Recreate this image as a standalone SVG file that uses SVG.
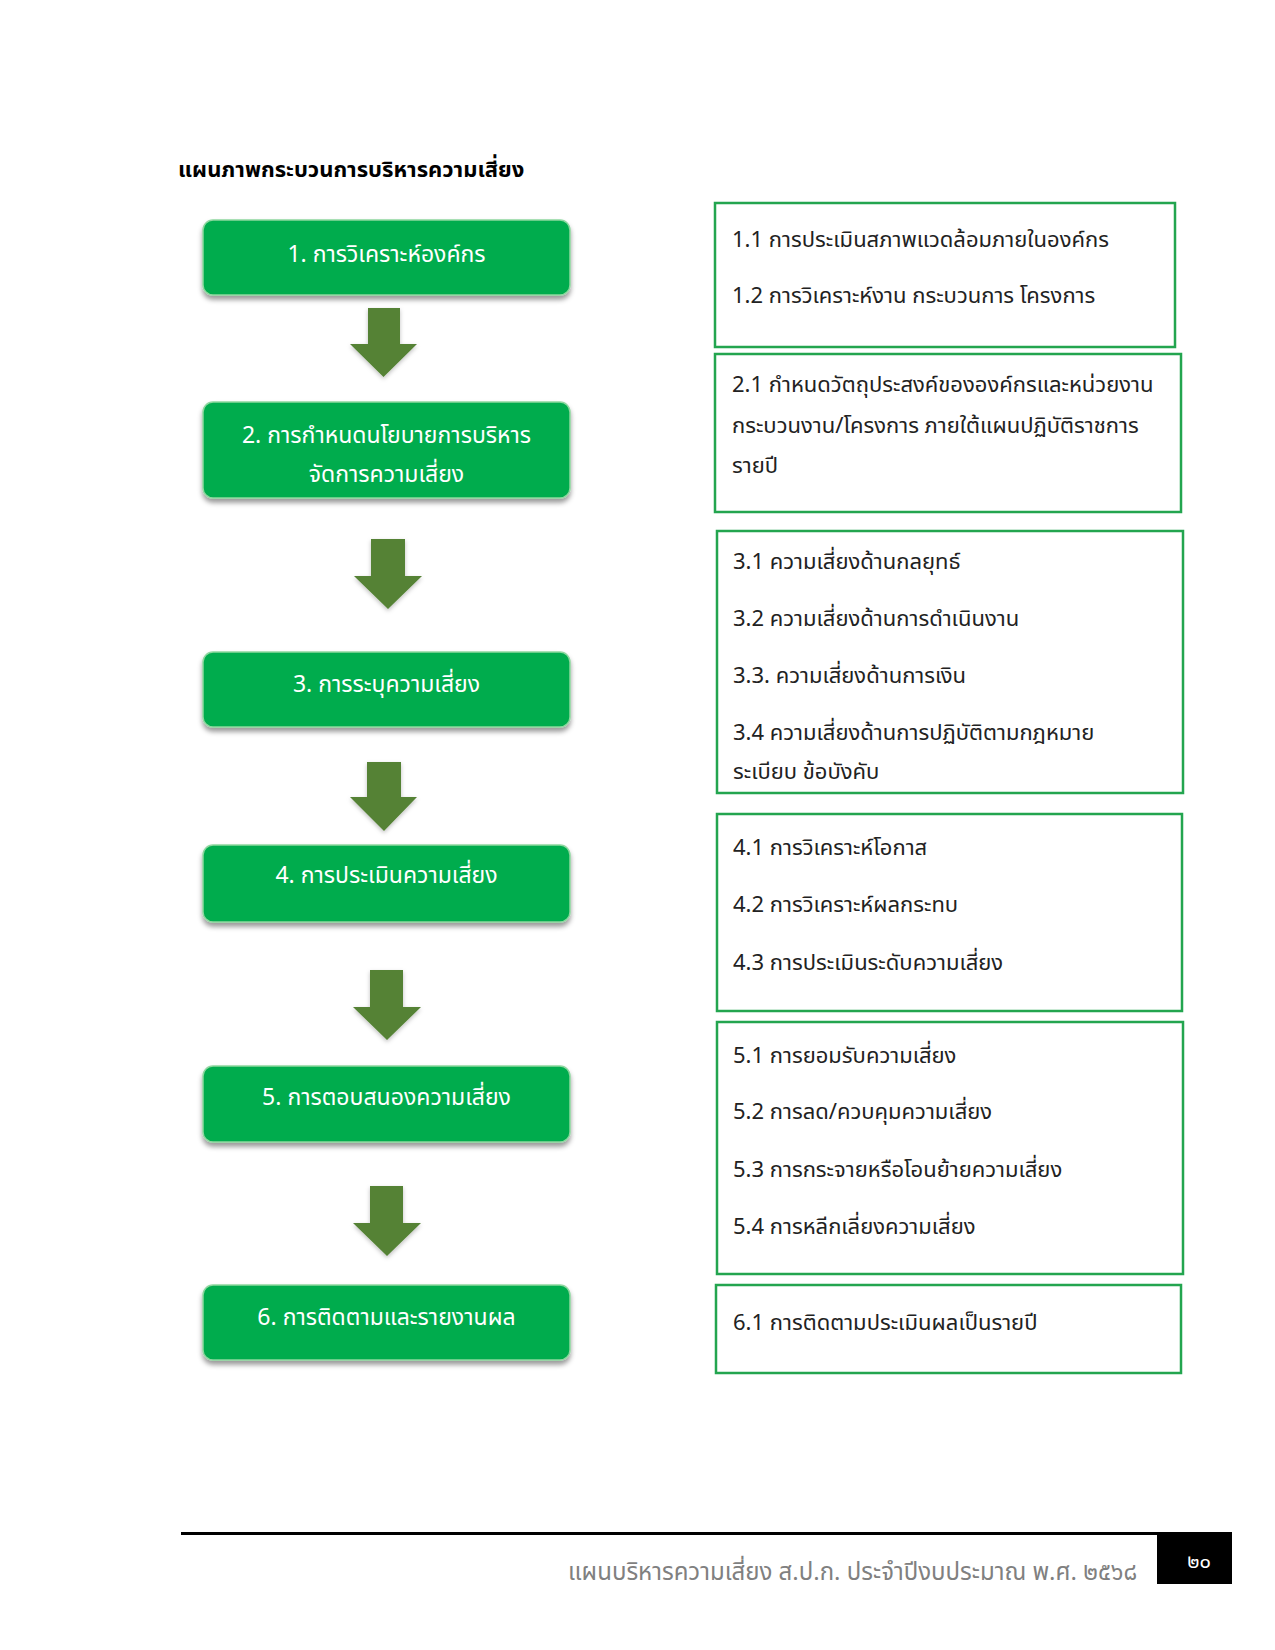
<svg xmlns="http://www.w3.org/2000/svg" width="1275" height="1650" viewBox="0 0 1275 1650">
<defs>
<filter id="sh" x="-10%" y="-20%" width="120%" height="150%">
<feDropShadow dx="0" dy="4" stdDeviation="2.5" flood-color="#000" flood-opacity="0.4"/>
</filter>
<filter id="ash" x="-20%" y="-20%" width="140%" height="140%">
<feDropShadow dx="0" dy="2" stdDeviation="2" flood-color="#000" flood-opacity="0.25"/>
</filter>
</defs>
<style>
text{font-family:"Noto Sans Thai","Leelawadee UI",Tahoma,"Noto Sans","DejaVu Sans",sans-serif}
.step rect{fill:#00AC4E;stroke:#8ED79F;stroke-width:1.5;filter:url(#sh)}
.step text{fill:#fff;font-size:23px;text-anchor:middle}
.arr{fill:#548235;filter:url(#ash)}
.det rect{fill:#fff;stroke:#23A54F;stroke-width:2.5}
.det text{fill:#222;font-size:22px}
</style>
<rect width="1275" height="1650" fill="#fff"/>
<text x="178" y="177" font-size="22" font-weight="bold" fill="#000">แผนภาพกระบวนการบริหารความเสี่ยง</text>

<g id="connectors">
<polygon class="arr" points="368,308 400,308 400,344 417,344 383.5,377 350,344 368,344"/>
<polygon class="arr" points="371,539 405,539 405,576 422,576 388,609 354,576 371,576"/>
<polygon class="arr" points="367,762 401,762 401,797 417,797 384,831 350,797 367,797"/>
<polygon class="arr" points="370,970 403,970 403,1007 421,1007 387,1040 353,1007 370,1007"/>
<polygon class="arr" points="370,1186 403,1186 403,1223 421,1223 387,1256 353,1223 370,1223"/>
</g>

<g id="step1" class="step"><rect x="203" y="220" width="367" height="75" rx="10"/><text x="386.5" y="262">1. การวิเคราะห์องค์กร</text></g>
<g id="step2" class="step"><rect x="203" y="402" width="367" height="96" rx="10"/><text x="386.5" y="443">2. การกำหนดนโยบายการบริหาร</text><text x="386.5" y="482">จัดการความเสี่ยง</text></g>
<g id="step3" class="step"><rect x="203" y="652" width="367" height="75" rx="10"/><text x="386.5" y="692">3. การระบุความเสี่ยง</text></g>
<g id="step4" class="step"><rect x="203" y="845" width="367" height="77" rx="10"/><text x="386.5" y="883">4. การประเมินความเสี่ยง</text></g>
<g id="step5" class="step"><rect x="203" y="1066" width="367" height="76" rx="10"/><text x="386.5" y="1105">5. การตอบสนองความเสี่ยง</text></g>
<g id="step6" class="step"><rect x="203" y="1285" width="367" height="75" rx="10"/><text x="386.5" y="1325">6. การติดตามและรายงานผล</text></g>

<g id="detail1" class="det"><rect x="715" y="203" width="460" height="144"/>
<text x="732" y="247">1.1 การประเมินสภาพแวดล้อมภายในองค์กร</text>
<text x="732" y="303">1.2 การวิเคราะห์งาน กระบวนการ โครงการ</text></g>
<g id="detail2" class="det"><rect x="715" y="354" width="466" height="158"/>
<text x="732" y="392">2.1 กำหนดวัตถุประสงค์ขององค์กรและหน่วยงาน</text>
<text x="732" y="433">กระบวนงาน/โครงการ ภายใต้แผนปฏิบัติราชการ</text>
<text x="732" y="473">รายปี</text></g>
<g id="detail3" class="det"><rect x="717" y="531" width="466" height="262"/>
<text x="733" y="569">3.1 ความเสี่ยงด้านกลยุทธ์</text>
<text x="733" y="626">3.2 ความเสี่ยงด้านการดำเนินงาน</text>
<text x="733" y="683">3.3. ความเสี่ยงด้านการเงิน</text>
<text x="733" y="740">3.4 ความเสี่ยงด้านการปฏิบัติตามกฎหมาย</text>
<text x="733" y="779">ระเบียบ ข้อบังคับ</text></g>
<g id="detail4" class="det"><rect x="717" y="814" width="465" height="197"/>
<text x="733" y="855">4.1 การวิเคราะห์โอกาส</text>
<text x="733" y="912">4.2 การวิเคราะห์ผลกระทบ</text>
<text x="733" y="970">4.3 การประเมินระดับความเสี่ยง</text></g>
<g id="detail5" class="det"><rect x="717" y="1022" width="466" height="252"/>
<text x="733" y="1063">5.1 การยอมรับความเสี่ยง</text>
<text x="733" y="1119">5.2 การลด/ควบคุมความเสี่ยง</text>
<text x="733" y="1177">5.3 การกระจายหรือโอนย้ายความเสี่ยง</text>
<text x="733" y="1234">5.4 การหลีกเลี่ยงความเสี่ยง</text></g>
<g id="detail6" class="det"><rect x="716" y="1285" width="465" height="88"/>
<text x="733" y="1330">6.1 การติดตามประเมินผลเป็นรายปี</text></g>

<g id="footer">
<line x1="181" y1="1533.5" x2="1157" y2="1533.5" stroke="#000" stroke-width="3"/>
<rect x="1157" y="1532" width="75" height="52" fill="#000"/>
<text x="1199" y="1568" font-size="20" fill="#fff" text-anchor="middle">๒๐</text>
<text x="1137" y="1580" font-size="24" fill="#808080" text-anchor="end">แผนบริหารความเสี่ยง ส.ป.ก. ประจำปีงบประมาณ พ.ศ. ๒๕๖๘</text>
</g>
</svg>
